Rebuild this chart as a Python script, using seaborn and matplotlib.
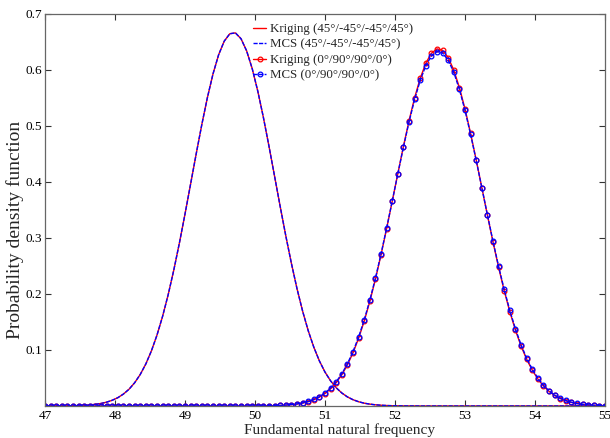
import matplotlib
matplotlib.use("Agg")
import matplotlib.pyplot as plt
import seaborn as sns
import pandas as pd

# ---------------- data ----------------
freq = [47.00, 47.08, 47.16, 47.24, 47.32, 47.40, 47.48, 47.56, 47.64, 47.72,
        47.80, 47.88, 47.96, 48.04, 48.12, 48.20, 48.28, 48.36, 48.44, 48.52,
        48.60, 48.68, 48.76, 48.84, 48.92, 49.00, 49.08, 49.16, 49.24, 49.32,
        49.40, 49.48, 49.56, 49.64, 49.72, 49.80, 49.88, 49.96, 50.04, 50.12,
        50.20, 50.28, 50.36, 50.44, 50.52, 50.60, 50.68, 50.76, 50.84, 50.92,
        51.00, 51.08, 51.16, 51.24, 51.32, 51.40, 51.48, 51.56, 51.64, 51.72,
        51.80, 51.88, 51.96, 52.04, 52.12, 52.20, 52.28, 52.36, 52.44, 52.52,
        52.60, 52.68, 52.76, 52.84, 52.92, 53.00, 53.08, 53.16, 53.24, 53.32,
        53.40, 53.48, 53.56, 53.64, 53.72, 53.80, 53.88, 53.96, 54.04, 54.12,
        54.20, 54.28, 54.36, 54.44, 54.52, 54.60, 54.68, 54.76, 54.84, 54.92,
        55.00]

kriging_45 = [0.0000, 0.0000, 0.0001, 0.0002, 0.0003, 0.0004, 0.0007, 0.0012, 0.0019, 0.0029,
              0.0045, 0.0068, 0.0102, 0.0148, 0.0213, 0.0299, 0.0414, 0.0562, 0.0750, 0.0984,
              0.1267, 0.1602, 0.1990, 0.2429, 0.2911, 0.3428, 0.3965, 0.4504, 0.5025, 0.5508,
              0.5930, 0.6271, 0.6514, 0.6647, 0.6662, 0.6558, 0.6342, 0.6024, 0.5620, 0.5151,
              0.4636, 0.4099, 0.3560, 0.3037, 0.2546, 0.2095, 0.1694, 0.1345, 0.1050, 0.0804,
              0.0605, 0.0448, 0.0325, 0.0232, 0.0162, 0.0112, 0.0076, 0.0050, 0.0033, 0.0021,
              0.0013, 0.0008, 0.0005, 0.0003, 0.0002, 0.0001, 0.0001, 0.0000, 0.0000, 0.0000,
              0.0000, 0.0000, 0.0000, 0.0000, 0.0000, 0.0000, 0.0000, 0.0000, 0.0000, 0.0000,
              0.0000, 0.0000, 0.0000, 0.0000, 0.0000, 0.0000, 0.0000, 0.0000, 0.0000, 0.0000,
              0.0000, 0.0000, 0.0000, 0.0000, 0.0000, 0.0000, 0.0000, 0.0000, 0.0000, 0.0000,
              0.0000]

mcs_45 = [0.0000, 0.0000, 0.0001, 0.0002, 0.0003, 0.0004, 0.0007, 0.0012, 0.0019, 0.0029,
          0.0045, 0.0068, 0.0102, 0.0148, 0.0213, 0.0299, 0.0414, 0.0562, 0.0750, 0.0984,
          0.1267, 0.1602, 0.1990, 0.2429, 0.2911, 0.3428, 0.3965, 0.4504, 0.5025, 0.5508,
          0.5930, 0.6271, 0.6514, 0.6647, 0.6662, 0.6558, 0.6342, 0.6024, 0.5620, 0.5151,
          0.4636, 0.4099, 0.3560, 0.3037, 0.2546, 0.2095, 0.1694, 0.1345, 0.1050, 0.0804,
          0.0605, 0.0448, 0.0325, 0.0232, 0.0162, 0.0112, 0.0076, 0.0050, 0.0033, 0.0021,
          0.0013, 0.0008, 0.0005, 0.0003, 0.0002, 0.0001, 0.0001, 0.0000, 0.0000, 0.0000,
          0.0000, 0.0000, 0.0000, 0.0000, 0.0000, 0.0000, 0.0000, 0.0000, 0.0000, 0.0000,
          0.0000, 0.0000, 0.0000, 0.0000, 0.0000, 0.0000, 0.0000, 0.0000, 0.0000, 0.0000,
          0.0000, 0.0000, 0.0000, 0.0000, 0.0000, 0.0000, 0.0000, 0.0000, 0.0000, 0.0000,
          0.0000]

kriging_0_90 = [0.0000, 0.0000, 0.0000, 0.0000, 0.0000, 0.0000, 0.0000, 0.0000, 0.0000, 0.0000,
                0.0000, 0.0000, 0.0000, 0.0000, 0.0000, 0.0000, 0.0000, 0.0000, 0.0000, 0.0000,
                0.0000, 0.0000, 0.0000, 0.0000, 0.0000, 0.0000, 0.0000, 0.0000, 0.0000, 0.0000,
                0.0000, 0.0000, 0.0000, 0.0000, 0.0000, 0.0000, 0.0000, 0.0001, 0.0001, 0.0002,
                0.0004, 0.0006, 0.0009, 0.0015, 0.0023, 0.0034, 0.0052, 0.0076, 0.0110, 0.0158,
                0.0222, 0.0307, 0.0417, 0.0557, 0.0734, 0.0949, 0.1209, 0.1515, 0.1866, 0.2262,
                0.2698, 0.3166, 0.3653, 0.4148, 0.4633, 0.5091, 0.5503, 0.5851, 0.6121, 0.6299,
                0.6377, 0.6351, 0.6222, 0.5997, 0.5686, 0.5304, 0.4866, 0.4393, 0.3901, 0.3408,
                0.2928, 0.2475, 0.2059, 0.1684, 0.1356, 0.1073, 0.0836, 0.0641, 0.0483, 0.0358,
                0.0261, 0.0188, 0.0132, 0.0092, 0.0063, 0.0042, 0.0028, 0.0018, 0.0012, 0.0007,
                0.0005]

mcs_0_90 = [0.0000, 0.0000, 0.0000, 0.0000, 0.0000, 0.0000, 0.0000, 0.0000, 0.0000, 0.0000,
            0.0000, 0.0000, 0.0000, 0.0000, 0.0000, 0.0000, 0.0000, 0.0000, 0.0000, 0.0000,
            0.0000, 0.0000, 0.0000, 0.0000, 0.0000, 0.0000, 0.0000, 0.0000, 0.0000, 0.0000,
            0.0000, 0.0000, 0.0000, 0.0000, 0.0000, 0.0000, 0.0000, 0.0001, 0.0001, 0.0002,
            0.0004, 0.0006, 0.0010, 0.0016, 0.0025, 0.0037, 0.0055, 0.0081, 0.0117, 0.0166,
            0.0232, 0.0319, 0.0432, 0.0575, 0.0753, 0.0971, 0.1231, 0.1538, 0.1888, 0.2281,
            0.2714, 0.3176, 0.3657, 0.4144, 0.4620, 0.5069, 0.5473, 0.5813, 0.6077, 0.6251,
            0.6327, 0.6302, 0.6176, 0.5956, 0.5652, 0.5278, 0.4849, 0.4384, 0.3901, 0.3415,
            0.2941, 0.2493, 0.2080, 0.1706, 0.1379, 0.1095, 0.0856, 0.0659, 0.0499, 0.0372,
            0.0272, 0.0197, 0.0139, 0.0098, 0.0067, 0.0045, 0.0030, 0.0020, 0.0013, 0.0008,
            0.0005]

labels = ["Kriging (45°/-45°/-45°/45°)", "MCS (45°/-45°/-45°/45°)",
          "Kriging (0°/90°/90°/0°)", "MCS (0°/90°/90°/0°)"]
x_ticks = [47, 48, 49, 50, 51, 52, 53, 54, 55]
y_ticks = [0.1, 0.2, 0.3, 0.4, 0.5, 0.6, 0.7]
x_label = "Fundamental natural frequency"
y_label = "Probability density function"

# ---------------- style ----------------
sns.set_style("ticks")
plt.rcParams["font.family"] = ["Liberation Serif", "DejaVu Serif"]

fig = plt.figure(figsize=(6.10, 4.38), dpi=100)
ax = fig.add_axes([0.0738, 0.0731, 0.918, 0.895])

df = pd.DataFrame({"freq": freq, "k45": kriging_45, "m45": mcs_45,
                   "k090": kriging_0_90, "m090": mcs_0_90})

red = "#ff0000"
blue = "#0000ff"

sns.lineplot(data=df, x="freq", y="k45", ax=ax, color=red, linewidth=1.0,
             label=labels[0])
sns.lineplot(data=df, x="freq", y="m45", ax=ax, color=blue, linewidth=1.0,
             linestyle=(0, (3, 1)), label=labels[1])
sns.lineplot(data=df, x="freq", y="k090", ax=ax, color=red, linewidth=1.0,
             marker="o", markersize=3.4, markerfacecolor="none",
             markeredgecolor=red, markeredgewidth=0.9, label=labels[2])
sns.lineplot(data=df, x="freq", y="m090", ax=ax, color=blue, linewidth=1.0,
             linestyle=(0, (3, 1)), marker="o", markersize=3.4,
             markerfacecolor="none", markeredgecolor=blue,
             markeredgewidth=0.9, label=labels[3])

ax.set_xlim(47, 55)
ax.set_ylim(0, 0.7)
ax.set_xticks(x_ticks)
ax.set_xticklabels([str(t) for t in x_ticks])
ax.set_yticks(y_ticks)
ax.set_yticklabels([f"{t:.1f}" for t in y_ticks])
ax.tick_params(direction="in", length=4, width=0.8, colors="#333333",
               labelcolor="black", labelsize=9.5, top=True, right=True,
               pad=2)
ax.tick_params(axis="x", pad=3)
for s in ax.spines.values():
    s.set_color("#666666")
    s.set_linewidth(0.9)

ax.set_xlabel(x_label, fontsize=11)
ax.set_ylabel(y_label, fontsize=14)
ax.xaxis.set_label_coords(0.525, -0.043)
ax.yaxis.set_label_coords(-0.037, 0.45)

leg = ax.legend(loc="upper left", bbox_to_anchor=(0.362, 0.99), frameon=False,
                fontsize=9.3, handlelength=1.05, handletextpad=0.25,
                labelspacing=0.27, borderaxespad=0.0)

fig.savefig("out.png", dpi=100)
